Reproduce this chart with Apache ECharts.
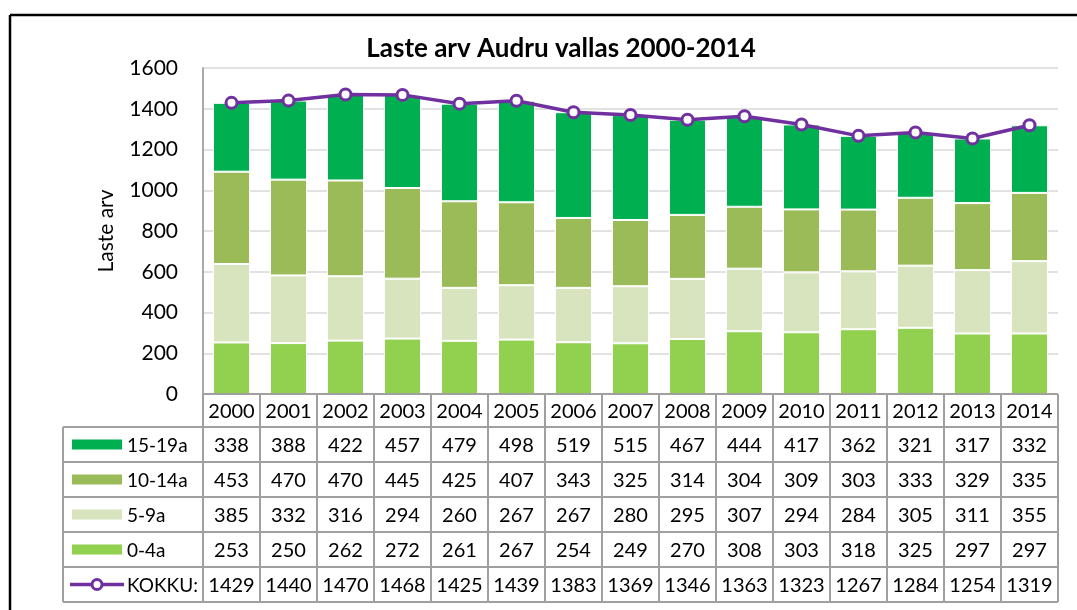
<!DOCTYPE html>
<html>
<head>
<meta charset="utf-8">
<script src="https://cdn.jsdelivr.net/npm/echarts@6/dist/echarts.min.js"></script>
<style>
  html, body { margin: 0; background: #fff; }
  #chart { width: 1077px; height: 610px; }
</style>
</head>
<body>
<div id="chart"></div>
<script>
const years = ["2000", "2001", "2002", "2003", "2004", "2005", "2006", "2007",
  "2008", "2009", "2010", "2011", "2012", "2013", "2014"];
const age0_4 = [253, 250, 262, 272, 261, 267, 254, 249, 270, 308, 303, 318, 325, 297, 297];
const age5_9 = [385, 332, 316, 294, 260, 267, 267, 280, 295, 307, 294, 284, 305, 311, 355];
const age10_14 = [453, 470, 470, 445, 425, 407, 343, 325, 314, 304, 309, 303, 333, 329, 335];
const age15_19 = [338, 388, 422, 457, 479, 498, 519, 515, 467, 444, 417, 362, 321, 317, 332];
const kokku = [1429, 1440, 1470, 1468, 1425, 1439, 1383, 1369, 1346, 1363, 1323, 1267, 1284, 1254, 1319];

const FONT = "Lato";
const colors = {
  "15-19a": "#00B050",
  "10-14a": "#9BBB59",
  "5-9a": "#D7E4BD",
  "0-4a": "#92D050",
  "KOKKU:": "#7030A0",
};

// table rows, top to bottom as in the picture
const tableRows = [
  { name: "15-19a", values: age15_19 },
  { name: "10-14a", values: age10_14 },
  { name: "5-9a", values: age5_9 },
  { name: "0-4a", values: age0_4 },
  { name: "KOKKU:", values: kokku, line: true },
];

const chart = echarts.init(document.getElementById("chart"));

function barSeries(name, data) {
  return {
    name: name,
    type: "bar",
    stack: "laps",
    data: data,
    barWidth: "65%",
    itemStyle: { color: colors[name], borderColor: "#fff", borderWidth: 1 },
    emphasis: { disabled: true },
  };
}

chart.setOption({
  animation: false,
  title: {
    text: "Laste arv Audru vallas 2000-2014",
    left: 556,
    textAlign: "center",
    top: 31,
    textStyle: { fontFamily: FONT, fontSize: 26, fontWeight: "bold", color: "#000" },
  },
  grid: { left: 203, right: 19, top: 68, bottom: 216, containLabel: false },
  xAxis: {
    type: "category",
    data: years,
    axisLine: { show: false },
    axisTick: { show: false },
    axisLabel: { show: false },
  },
  yAxis: {
    type: "value",
    min: 0,
    max: 1600,
    interval: 200,
    name: "Laste arv",
    nameLocation: "middle",
    nameRotate: 90,
    nameGap: 86,
    nameTextStyle: { fontFamily: FONT, fontSize: 21, color: "#000" },
    axisLine: { show: true, lineStyle: { color: "#8c8c8c", width: 1.5 } },
    axisTick: { show: false },
    axisLabel: { fontFamily: FONT, fontSize: 21, color: "#000", margin: 25, formatter: (v) => String(v) },
    splitLine: { lineStyle: { color: "#d9d9d9", width: 1.5 } },
  },
  series: [
    barSeries("0-4a", age0_4),
    barSeries("5-9a", age5_9),
    barSeries("10-14a", age10_14),
    barSeries("15-19a", age15_19),
    {
      name: "KOKKU:",
      type: "line",
      data: kokku,
      symbol: "circle",
      symbolSize: 11,
      lineStyle: { color: colors["KOKKU:"], width: 3.5 },
      itemStyle: { color: "#fff", borderColor: colors["KOKKU:"], borderWidth: 3 },
      z: 5,
    },
  ],
});

// data table under the plot, built from the same arrays and the x axis scale
function drawTable() {
  const g = [];
  const gridRect = chart.getModel().getComponent("grid").coordinateSystem.getRect();
  const c0 = chart.convertToPixel({ xAxisIndex: 0 }, years[0]);
  const c1 = chart.convertToPixel({ xAxisIndex: 0 }, years[1]);
  const half = (c1 - c0) / 2;
  const colX = years.map((y) => chart.convertToPixel({ xAxisIndex: 0 }, y));
  const left = gridRect.x;
  const right = gridRect.x + gridRect.width;
  const top = gridRect.y + gridRect.height;
  const headH = 33;
  const rowH = 35;
  const legendLeft = 63;
  const bottom = top + headH + rowH * tableRows.length;
  const lineStyle = { stroke: "#a0a0a0", lineWidth: 2 };
  const hl = (x1, x2, y) => g.push({ type: "line", shape: { x1, y1: y, x2, y2: y }, style: lineStyle, z: 10 });
  const vl = (x, y1, y2) => g.push({ type: "line", shape: { x1: x, y1, x2: x, y2 }, style: lineStyle, z: 10 });
  const txt = (x, y, s, align, size) => g.push({
    type: "text", x, y, z: 11,
    style: { text: s, fill: "#000", font: (size || 20) + "px " + FONT, textAlign: align || "center", textVerticalAlign: "middle" },
  });

  // horizontal lines
  hl(left, right, top);
  for (let r = 0; r <= tableRows.length; r++) hl(legendLeft, right, top + headH + rowH * r);
  // vertical lines
  vl(legendLeft, top + headH, bottom);
  vl(left, top, bottom);
  colX.forEach((cx) => vl(cx + half, top, bottom));

  // year header
  years.forEach((y, i) => txt(colX[i], top + headH / 2 + 1, y));

  tableRows.forEach((row, r) => {
    const cy = top + headH + rowH * r + rowH / 2;
    if (row.line) {
      g.push({ type: "line", z: 11, shape: { x1: 70, y1: cy, x2: 124, y2: cy },
        style: { stroke: colors[row.name], lineWidth: 3.5 } });
      g.push({ type: "circle", z: 12, shape: { cx: 97, cy: cy, r: 5 },
        style: { fill: "#fff", stroke: colors[row.name], lineWidth: 3 } });
    } else {
      g.push({ type: "rect", z: 11, shape: { x: 72, y: cy - 5, width: 50, height: 10 },
        style: { fill: colors[row.name] } });
    }
    txt(127, cy + 1, row.name, "left", 19);
    row.values.forEach((v, i) => txt(colX[i], cy + 1, String(v)));
  });

  // outer frame (black, left and top)
  g.push({ type: "line", z: 20, shape: { x1: 10, y1: 15, x2: 1077, y2: 15 }, style: { stroke: "#000", lineWidth: 2.5 } });
  g.push({ type: "line", z: 20, shape: { x1: 10, y1: 15, x2: 10, y2: 610 }, style: { stroke: "#000", lineWidth: 2.5 } });

  chart.setOption({ graphic: g });
}

drawTable();
window.addEventListener("resize", () => chart.resize());
</script>
</body>
</html>
